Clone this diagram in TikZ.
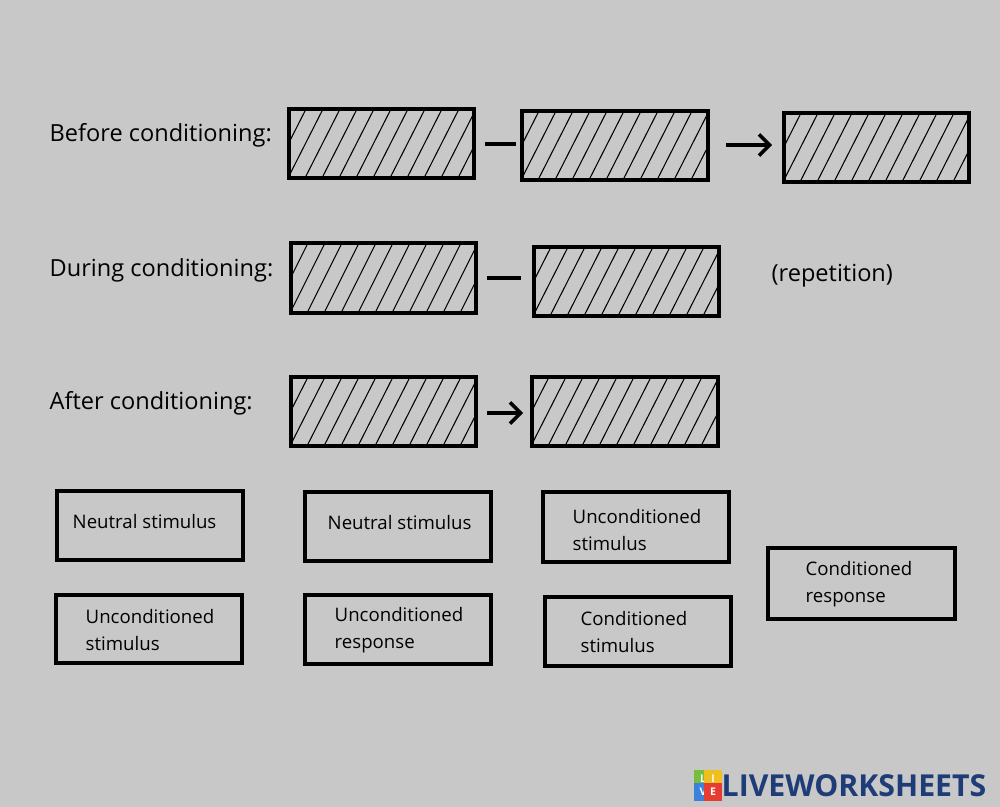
\documentclass[tikz,border=0pt]{standalone}
\usepackage{fontspec}
\setmainfont{Open Sans}
\usetikzlibrary{arrows.meta}
\newcommand{\hatchbox}[5]{%
  \begin{scope}
    \clip (#2,#3) rectangle (#4,#5);
    \foreach \k in {0,17,...,260}{\draw[line width=0.3pt] (#2+\k-35,#5) -- (#2+\k,#3);}
  \end{scope}
  \draw[line width=1.1pt] (#2,#3) rectangle (#4,#5);
}
\begin{document}
\begin{tikzpicture}[x=0.01cm,y=-0.01cm,
  lbl/.style={anchor=west,inner sep=0,font=\fontsize{6.7}{8}\selectfont},
  ans/.style={draw=black,line width=0.9pt,fill=none},
  anstext/.style={font=\fontsize{5.3}{7.6}\selectfont,align=left,anchor=west,inner sep=0},
  conn/.style={line width=1pt},
  logosq/.style={minimum size=5pt,inner sep=0,font=\fontsize{3}{3}\bfseries\selectfont,text=white},
  arr/.style={line width=1pt,-{Straight Barb[length=3pt,width=6pt]}}]
\fill[fill={rgb,255:red,200;green,200;blue,200}] (0,0) rectangle (1000,807);
\useasboundingbox (0,0) rectangle (1000,807);
\hatchbox{a1}{289}{109}{474}{178}
\hatchbox{a2}{522}{111}{708}{180}
\hatchbox{a3}{784}{113}{969}{182}
\hatchbox{b1}{291}{243}{476}{313}
\hatchbox{b2}{534}{247}{719}{316}
\hatchbox{c1}{291}{377}{476}{446}
\hatchbox{c2}{532}{377}{718}{446}
\coordinate (d1a) at (485,144); \coordinate (d1b) at (516,144);
\draw[conn] (d1a) -- (d1b);
\coordinate (d2a) at (487,278); \coordinate (d2b) at (521,278);
\draw[conn] (d2a) -- (d2b);
\coordinate (r1a) at (726,145); \coordinate (r1b) at (772,145);
\draw[arr] (r1a) -- (r1b);
\coordinate (r2a) at (487,413); \coordinate (r2b) at (523,413);
\draw[arr] (r2a) -- (r2b);
\node[lbl] (l1) at (49,135) {Before conditioning:};
\node[lbl] (l2) at (49,270) {During conditioning:};
\node[lbl] (l3) at (49,403) {After conditioning:};
\node[lbl] (rep) at (771,276) {(repetition)};
\draw[ans] (57,491) rectangle (243,560); \node[anstext] (t1) at (72,522) {Neutral stimulus};
\draw[ans] (305,492) rectangle (491,561); \node[anstext] (t2) at (327,523) {Neutral stimulus};
\draw[ans] (543,492) rectangle (729,562); \node[anstext] (t3) at (572,530) {Unconditioned\\stimulus};
\draw[ans] (768,548) rectangle (955,619); \node[anstext] (t4) at (805,584) {Conditioned\\response};
\draw[ans] (56,595) rectangle (242,663); \node[anstext] (t5) at (85,630) {Unconditioned\\stimulus};
\draw[ans] (305,595) rectangle (491,664); \node[anstext] (t6) at (334,630) {Unconditioned\\response};
\draw[ans] (545,597) rectangle (731,666); \node[anstext] (t7) at (580,632) {Conditioned\\stimulus};
\node[logosq,fill={rgb,255:red,120;green,190;blue,60}] (g1) at (703,779) {L};
\node[logosq,fill={rgb,255:red,240;green,190;blue,30}] (g2) at (713,779) {I};
\node[logosq,fill={rgb,255:red,60;green,130;blue,220}] (g3) at (703,792) {V};
\node[logosq,fill={rgb,255:red,230;green,60;blue,50}] (g4) at (713,792) {E};
\node[anchor=west,inner sep=0,font=\fontsize{8.6}{9}\bfseries\selectfont,text={rgb,255:red,30;green,60;blue,120}] (logo) at (721,786) {LIVEWORKSHEETS};
\end{tikzpicture}
\end{document}
